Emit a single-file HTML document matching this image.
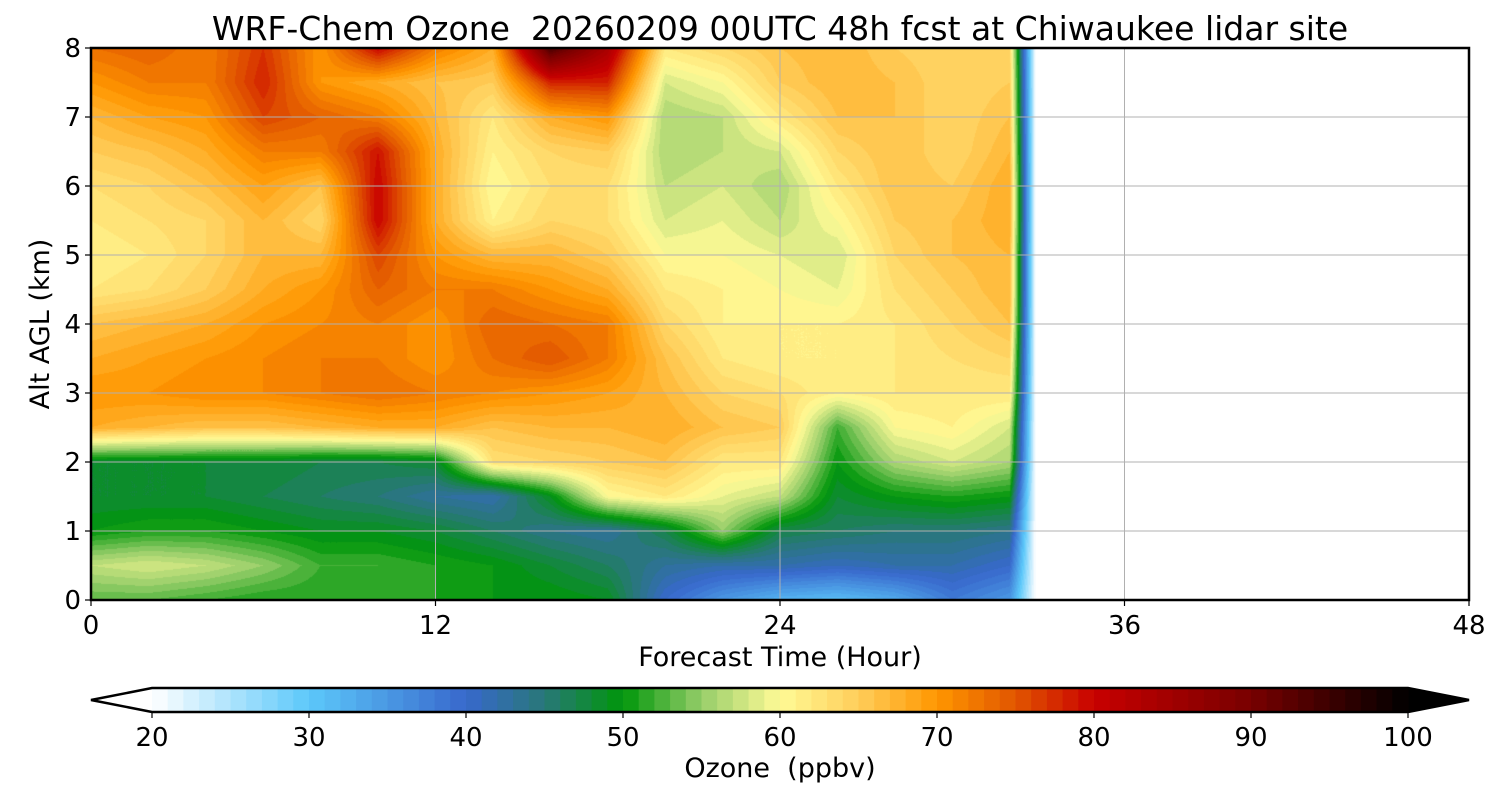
<!DOCTYPE html>
<html><head><meta charset="utf-8">
<style>
html,body{margin:0;padding:0;background:#fff;}
#wrap{position:relative;width:1500px;height:800px;font-family:"Liberation Sans","DejaVu Sans",sans-serif;color:#000;}
svg text{font-family:"DejaVu Sans","Liberation Sans",sans-serif;white-space:pre;}
canvas{position:absolute;left:0;top:0;}
svg{position:absolute;left:0;top:0;}
</style></head>
<body>
<div id="wrap">
<canvas id="cv" width="1500" height="800"></canvas>
<svg id="sv" width="1500" height="800"></svg>
</div>
<script>
const hours = [0,2,4,6,8,10,12,14,16,18,20,22,24,26,28,30,32,32.9];
const alts = [0,0.5,1,1.5,2,2.5,3,3.5,4,4.5,5,5.5,6,6.5,7,7.5,8];
const ozone = [
 [53,57,50,48,48,68,70,68,66,62,61,62,63,65,67,70,73],
 [53,58,51,48,48,67,70,69,67,63,62,63,64,66,69,72,74],
 [52,57,51,48,48,66,71,70,68,65,64,64,66,68,70,72,72],
 [51,55,50,47,48,66,71,71,70,68,67,67,69,72,76,78,77],
 [51,52,49,46,47,67,72,72,71,70,67,64,66,72,74,70,70],
 [51,52,49,45,47,68,73,72,72,74,76,80,80,79,72,68,80],
 [51,51,48,43,48,68,72,70,70,72,70,68,68,68,67,66,72],
 [50,50,46,42,63,66,71,73,74,72,67,61,60,61,62,65,68],
 [50,48,44,49,64,67,70,75,73,70,67,64,63,64,68,78,94],
 [49,46,43,60,65,67,69,72,72,68,65,63,63,65,70,78,84],
 [40,43,47,62,66,68,67,66,64,62,60,58,57,56,56,58,62],
 [35,42,55,59,62,66,64,62,61,61,60,59,58,57,57,60,64],
 [32,42,47,57,62,65,63,61,61,60,59,57,56,58,62,65,66],
 [31,41,46,48,50,52,61,61,61,59,58,60,62,64,66,67,67],
 [33,42,45,50,56,60,62,62,62,63,64,65,66,66,66,66,65],
 [38,42,45,51,58,61,62,63,64,65,66,66,65,64,64,64,64],
 [35,40,44,50,56,58,62,64,66,67,67,68,68,67,66,65,64],
 [20,20,20,20,20,20,20,20,20,20,20,20,20,20,20,20,20]
];
const xTicks = [0,12,24,36,48];
const yTicks = [0,1,2,3,4,5,6,7,8];
const cbTicks = [20,30,40,50,60,70,80,90,100];
const cbLevels = Array.from({length:80},(_,i)=>20+i);

const L=91,R=1469,T=48,B=600;
const xs = h => L + (h/48)*(R-L);
const ys = a => B - (a/8)*(B-T);
const CL=152,CR=1408,CT=688,CB=712;
const cx = v => CL + (v-20)/80*(CR-CL);

const stops=[[20,[255,255,255]],[30,[92,200,250]],[40,[56,104,204]],[45,[40,120,120]],[50,[0,150,10]],[55,[150,205,105]],[60,[255,250,150]],[65,[255,205,90]],[70,[255,150,0]],[75,[225,85,0]],[80,[200,0,0]],[90,[120,0,0]],[100,[0,0,0]]];
function cmap(v){
  v=Math.max(20,Math.min(100,v));
  for(let i=0;i<stops.length-1;i++){
    const [a,ca]=stops[i],[b,cb]=stops[i+1];
    if(v<=b){const t=(v-a)/(b-a);return ca.map((c,k)=>Math.round(c+(cb[k]-c)*t));}
  }
  return [0,0,0];
}
function interp(h,a){
  let i=0; while(i<hours.length-2 && h>hours[i+1]) i++;
  let j=0; while(j<alts.length-2 && a>alts[j+1]) j++;
  const tx=(h-hours[i])/(hours[i+1]-hours[i]), ty=(a-alts[j])/(alts[j+1]-alts[j]);
  const v00=ozone[i][j],v10=ozone[i+1][j],v01=ozone[i][j+1],v11=ozone[i+1][j+1];
  return v00*(1-tx)*(1-ty)+v10*tx*(1-ty)+v01*(1-tx)*ty+v11*tx*ty;
}
const ctx=document.getElementById('cv').getContext('2d');
const x0=Math.round(xs(hours[0])), x1=Math.round(xs(hours[hours.length-1]));
const img=ctx.createImageData(x1-x0,B-T);
for(let py=0;py<B-T;py++){
  const a=(B-(T+py+0.5))/(B-T)*8;
  for(let px=0;px<x1-x0;px++){
    const h=(x0+px+0.5-L)/(R-L)*48;
    const v=interp(h,a);
    const q=Math.floor(v)+0.5;
    const c=cmap(q);
    const k=(py*(x1-x0)+px)*4;
    img.data[k]=c[0];img.data[k+1]=c[1];img.data[k+2]=c[2];img.data[k+3]=255;
  }
}
ctx.putImageData(img,x0,T);

const NS='http://www.w3.org/2000/svg';
const sv=document.getElementById('sv');
function el(tag,attrs,txt){const e=document.createElementNS(NS,tag);for(const k in attrs)e.setAttribute(k,attrs[k]);if(txt!==undefined)e.textContent=txt;sv.appendChild(e);return e;}
xTicks.forEach(t=>{
  const g=el('line',{x1:xs(t),x2:xs(t),y1:T,y2:B,stroke:'#b0b0b0','stroke-width':1});
  
  
  const tk=el('line',{x1:xs(t),x2:xs(t),y1:B,y2:B+6,stroke:'#000','stroke-width':1.2});
  
  
  const lb=el('text',{x:xs(t),y:B+34,'font-size':26,'text-anchor':'middle'},String(t));
  
  
});
yTicks.forEach(t=>{
  const g=el('line',{x1:L,x2:R,y1:ys(t),y2:ys(t),stroke:'#b0b0b0','stroke-width':1});
  
  
  const tk=el('line',{x1:L-6,x2:L,y1:ys(t),y2:ys(t),stroke:'#000','stroke-width':1.2});
  
  
  const lb=el('text',{x:L-10,y:ys(t)+9,'font-size':26,'text-anchor':'end'},String(t));
  
  
});
const fr=el('rect',{x:L,y:T,width:R-L,height:B-T,fill:'none',stroke:'#000','stroke-width':2.5});


const ti=el('text',{x:780,y:40,'font-size':33,'text-anchor':'middle'},'WRF-Chem Ozone  20260209 00UTC 48h fcst at Chiwaukee lidar site');


const xt=el('text',{x:780,y:666,'font-size':27,'text-anchor':'middle'},'Forecast Time (Hour)');


const yt=el('text',{x:0,y:0,'font-size':27,'text-anchor':'middle',transform:'translate(49,324) rotate(-90)'},'Alt AGL (km)');


const tl=el('polygon',{points:`${CL},${CT} 91,${(CT+CB)/2} ${CL},${CB}`,fill:'#fff',stroke:'none'});


const tr=el('polygon',{points:`${CR},${CT} 1469,${(CT+CB)/2} ${CR},${CB}`,fill:'#000'});


cbLevels.forEach(v=>{
  const c=cmap(v+0.5);
  const r=el('rect',{x:cx(v),y:CT,width:cx(v+1)-cx(v)+0.6,height:CB-CT,fill:`rgb(${c})`});
  
  
});
const ol=el('polygon',{points:`91,${(CT+CB)/2} ${CL},${CT} ${CR},${CT} 1469,${(CT+CB)/2} ${CR},${CB} ${CL},${CB}`,fill:'none',stroke:'#000','stroke-width':2.5});


cbTicks.forEach(t=>{
  const tk=el('line',{x1:cx(t),x2:cx(t),y1:CB,y2:CB+6,stroke:'#000','stroke-width':1.2});
  
  
  const lb=el('text',{x:cx(t),y:CB+34,'font-size':26,'text-anchor':'middle'},String(t));
  
  
});
const ct=el('text',{x:780,y:777,'font-size':27,'text-anchor':'middle'},'Ozone  (ppbv)');


</script>
</body></html>
